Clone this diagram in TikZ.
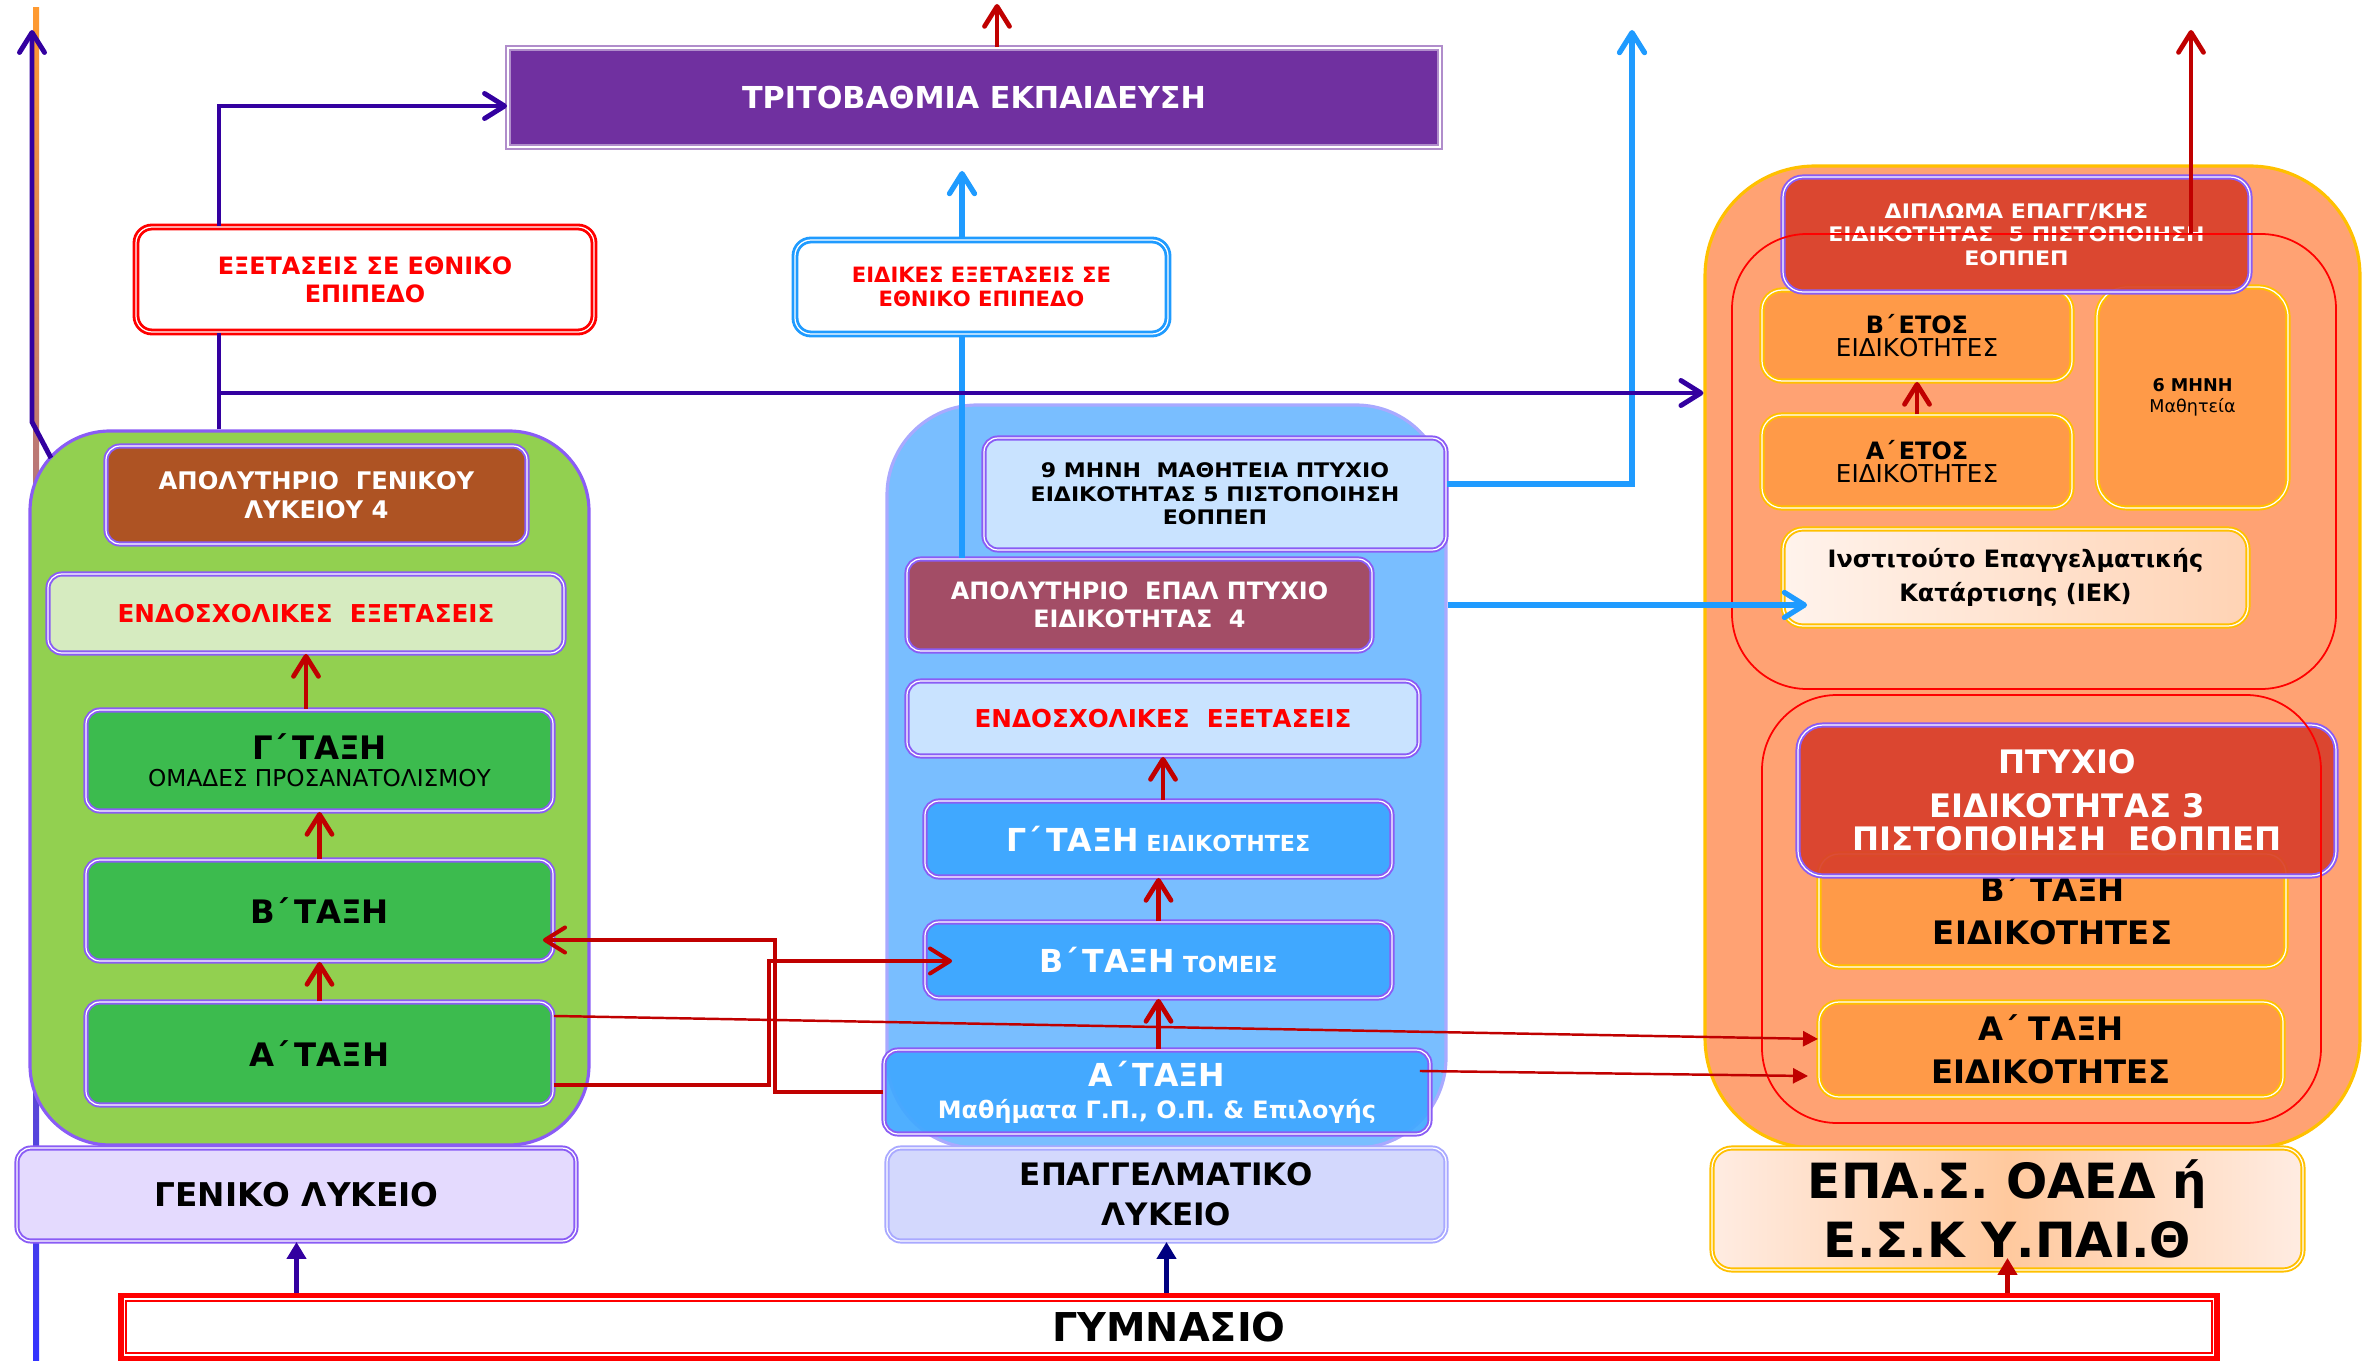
\documentclass[tikz,border=0pt]{standalone}
\usepackage{fontspec}
\setmainfont{DejaVu Sans}
\newfontfamily\widefont{DejaVu Sans}[FakeStretch=1.1]
\usetikzlibrary{arrows.meta}

\definecolor{plum}{HTML}{7030A0}
\definecolor{deepviolet}{HTML}{3300A0}
\definecolor{darkred}{HTML}{C00000}
\definecolor{skyline}{HTML}{1F9BFF}
\definecolor{boxline}{HTML}{8A5CF5}
\definecolor{grass}{HTML}{92D050}
\definecolor{rust}{HTML}{AE5323}
\definecolor{mint}{HTML}{D6EBC0}
\definecolor{leaf}{HTML}{3CBB4E}
\definecolor{lavender}{HTML}{E4DAFE}
\definecolor{skyfill}{HTML}{79BEFF}
\definecolor{skyedge}{HTML}{A9A9FF}
\definecolor{icefill}{HTML}{C9E3FF}
\definecolor{mauve}{HTML}{A34D66}
\definecolor{azure}{HTML}{40A8FF}
\definecolor{periwinkle}{HTML}{D3D8FD}
\definecolor{salmon}{HTML}{FFA273}
\definecolor{gold}{HTML}{FFC000}
\definecolor{brick}{HTML}{D9402B}
\definecolor{tangerine}{HTML}{FF9A48}
\definecolor{peachlight}{HTML}{FFECE2}
\definecolor{peachmid}{HTML}{FFC99E}
\definecolor{iekleft}{HTML}{FFF3EC}
\definecolor{iekright}{HTML}{FFD3B4}
\definecolor{leftorange}{HTML}{FF9A30}
\definecolor{leftpink}{HTML}{E08888}
\definecolor{leftblue}{HTML}{3333FF}
\definecolor{navyline}{HTML}{000080}

\tikzset{
  chev/.tip={Straight Barb[length=2mm,width=2.5mm,round]},
  tri/.tip={Triangle[length=1.5mm,width=1.5mm]},
  gtri/.tip={Triangle[length=1.7mm,width=1.9mm]},
  wh/.style 2 args={minimum width=#1*0.01cm, minimum height=#2*0.01cm},
  fnt/.style 2 args={font=\fontsize{#1}{#2}\selectfont\bfseries},
  widefnt/.style 2 args={font=\widefont\fontsize{#1}{#2}\selectfont\bfseries},
  cont/.style={rectangle, inner sep=0pt, line width=0.9pt},
  box/.style={rectangle, rounded corners=0.14cm, inner sep=0pt, align=center,
    draw=boxline, double=white, double distance=0.35pt, line width=0.55pt},
  gbox/.style={box, draw=gold, fill=tangerine, rounded corners=0.2cm},
  grp/.style={rectangle, draw=red, line width=0.5pt, rounded corners=0.75cm, inner sep=0pt},
  vline/.style={draw=deepviolet, line width=1.4pt},
  rline/.style={draw=darkred, line width=1.35pt, -chev},
  rcross/.style={draw=darkred, line width=1.15pt, -chev},
  rthin/.style={draw=darkred, line width=0.7pt, -tri},
  bline/.style={draw=skyline, line width=1.5pt},
  gline/.style={line width=1.3pt, -gtri}
}

\begin{document}
\begin{tikzpicture}[x=0.01cm, y=-0.01cm]
\useasboundingbox (0,0) rectangle (2369,1361);

\coordinate (ltop) at (32,30);
\coordinate (lbend) at (32,422);
\coordinate (gstart) at (51,458);
\coordinate (vx) at (219,0);
\coordinate (hy) at (0,393);
\coordinate (ty) at (0,106);
\coordinate (bx) at (962,0);
\coordinate (btop) at (1632,30);
\coordinate (rtop) at (2191,30);
\coordinate (ttop) at (997,4);
\coordinate (jA) at (775,940);
\coordinate (jB) at (769,961);
\coordinate (jBy) at (0,1085);

\shade[top color=leftorange, middle color=leftpink, bottom color=leftblue] (33,8) rectangle (39,1361);

\node[cont, fill=grass, draw=boxline, rounded corners=0.8cm, wh={559}{714}] (genbox) at (309.5,788) {};
\node[cont, fill=skyfill, draw=skyedge, rounded corners=0.9cm, wh={559}{743}] (epalbox) at (1166.5,776.5) {};
\node[cont, fill=salmon, draw=gold, rounded corners=1.1cm, wh={655}{982}] (epasbox) at (2032.5,657) {};

\node[box, sharp corners, fill=plum, draw=plum!55, text=white, fnt={8.6pt}{10pt}, wh={932}{99}] (tritov) at (974,97.5) {ΤΡΙΤΟΒΑΘΜΙΑ ΕΚΠΑΙΔΕΥΣΗ};
\node[box, fill=white, draw=red, line width=0.8pt, rounded corners=0.16cm, text=red, fnt={6.8pt}{8pt}, wh={458}{105}] (exet) at (365,279.5) {ΕΞΕΤΑΣΕΙΣ ΣΕ ΕΘΝΙΚΟ\\ΕΠΙΠΕΔΟ};
\node[box, fill=white, draw=skyline, line width=0.8pt, rounded corners=0.16cm, text=red, fnt={6pt}{6.6pt}, wh={373}{94}] (eidik) at (981.5,287) {ΕΙΔΙΚΕΣ ΕΞΕΤΑΣΕΙΣ ΣΕ\\ΕΘΝΙΚΟ ΕΠΙΠΕΔΟ};

\node[box, fill=rust, text=white, fnt={6.9pt}{8.3pt}, wh={421}{98}] (apolgen) at (316.5,495) {ΑΠΟΛΥΤΗΡΙΟ\ \ ΓΕΝΙΚΟΥ\\ΛΥΚΕΙΟΥ\ 4};
\node[box, fill=mint, text=red, fnt={7pt}{8pt}, wh={516}{79}] (endoL) at (306,613.5) {ΕΝΔΟΣΧΟΛΙΚΕΣ\ \ ΕΞΕΤΑΣΕΙΣ};
\node[box, fill=leaf, fnt={6.6pt}{7.7pt}, wh={467}{101}] (gL) at (319.5,760.5) {{\fontsize{9.2pt}{9.2pt}\selectfont Γ΄\,ΤΑΞΗ}\\{\mdseries ΟΜΑΔΕΣ ΠΡΟΣΑΝΑΤΟΛΙΣΜΟΥ}};
\node[box, fill=leaf, fnt={9.2pt}{10pt}, wh={467}{101}] (bL) at (319.5,910.5) {Β΄\,ΤΑΞΗ};
\node[box, fill=leaf, fnt={9.2pt}{10pt}, wh={467}{103}] (aL) at (319.5,1053.5) {Α΄\,ΤΑΞΗ};
\node[box, fill=lavender, fnt={9.3pt}{10pt}, wh={559}{93}] (genlyk) at (296.5,1194.5) {ΓΕΝΙΚΟ ΛΥΚΕΙΟ};

\node[box, fill=icefill, widefnt={5.7pt}{6.7pt}, wh={462}{112}] (mhnh9) at (1215,494) {9 ΜΗΝΗ\ \ ΜΑΘΗΤΕΙΑ ΠΤΥΧΙΟ\\ΕΙΔΙΚΟΤΗΤΑΣ 5 ΠΙΣΤΟΠΟΙΗΣΗ\\ΕΟΠΠΕΠ};
\node[box, fill=mauve, text=white, fnt={6.8pt}{8pt}, wh={465}{92}] (apolepal) at (1139.5,605) {ΑΠΟΛΥΤΗΡΙΟ\ \ ΕΠΑΛ ΠΤΥΧΙΟ\\ΕΙΔΙΚΟΤΗΤΑΣ\ \ 4};
\node[box, fill=icefill, text=red, fnt={7pt}{8pt}, wh={512}{75}] (endoM) at (1163,718.5) {ΕΝΔΟΣΧΟΛΙΚΕΣ\ \ ΕΞΕΤΑΣΕΙΣ};
\node[box, fill=azure, text=white, fnt={6.3pt}{8pt}, wh={467}{76}] (gM) at (1158.5,839) {{\fontsize{9pt}{9pt}\selectfont Γ΄\,ΤΑΞΗ} ΕΙΔΙΚΟΤΗΤΕΣ};
\node[box, fill=azure, text=white, fnt={6.3pt}{8pt}, wh={467}{76}] (bM) at (1158.5,960) {{\fontsize{9pt}{9pt}\selectfont Β΄\,ΤΑΞΗ} ΤΟΜΕΙΣ};
\node[box, fill=azure, fill opacity=0.92, text opacity=1, text=white, fnt={6.8pt}{9.1pt}, wh={546}{84}] (aM) at (1157,1092) {{\fontsize{9pt}{9pt}\selectfont Α΄\,ΤΑΞΗ}\\Μαθήματα Γ.Π., Ο.Π. \& Επιλογής};
\node[box, draw=skyedge, fill=periwinkle, fnt={8.8pt}{11.4pt}, wh={559}{93}] (epaglyk) at (1166.5,1194.5) {ΕΠΑΓΓΕΛΜΑΤΙΚΟ\\ΛΥΚΕΙΟ};

\node[rectangle, draw=red, line width=1.6pt, fill=white, inner sep=0pt, fnt={11.3pt}{12pt}, wh={2096}{63}] (gym) at (1169,1327) {ΓΥΜΝΑΣΙΟ};
\draw[red, line width=0.5pt] ([shift={(8,8)}]gym.north west) rectangle ([shift={(-8,-8)}]gym.south east);

\node[gbox, fnt={6.8pt}{6.6pt}, wh={310}{91}] (betos) at (1917,335.5) {Β΄\,ΕΤΟΣ\\{\mdseries\fontsize{7pt}{6.6pt}\selectfont ΕΙΔΙΚΟΤΗΤΕΣ}};
\node[gbox, fnt={6.8pt}{6.6pt}, wh={310}{93}] (aetos) at (1917,461.5) {Α΄\,ΕΤΟΣ\\{\mdseries\fontsize{7pt}{6.6pt}\selectfont ΕΙΔΙΚΟΤΗΤΕΣ}};
\node[gbox, rounded corners=0.3cm, fnt={5pt}{5.8pt}, wh={191}{221}] (mhnh6) at (2192.5,397.5) {6 ΜΗΝΗ\\{\mdseries Μαθητεία}};
\node[box, draw=gold, left color=iekleft, right color=iekright, rounded corners=0.2cm, fnt={6.8pt}{9.7pt}, wh={465}{97}] (iek) at (2015.5,577.5) {Ινστιτούτο Επαγγελματικής\\Κατάρτισης (ΙΕΚ)};
\node[box, fill=brick, fill opacity=0.92, text opacity=1, text=white, rounded corners=0.2cm, widefnt={5.7pt}{6.7pt}, wh={467}{115}] (diploma) at (2016.5,234.5) {ΔΙΠΛΩΜΑ ΕΠΑΓΓ/ΚΗΣ\\ΕΙΔΙΚΟΤΗΤΑΣ\ \ 5 ΠΙΣΤΟΠΟΙΗΣΗ\\ΕΟΠΠΕΠ};
\node[gbox, fnt={9.2pt}{12.2pt}, wh={467}{113}] (bR) at (2052.5,910.5) {Β΄\ ΤΑΞΗ\\ΕΙΔΙΚΟΤΗΤΕΣ};
\node[gbox, fnt={9.2pt}{12.2pt}, wh={464}{95}] (aR) at (2051,1049.5) {Α΄\ ΤΑΞΗ\\ΕΙΔΙΚΟΤΗΤΕΣ};
\node[box, fill=brick, fill opacity=0.93, text opacity=1, text=white, rounded corners=0.25cm, fnt={9.2pt}{9.4pt}, wh={538}{151}] (ptyxio) at (2067,800.5) {ΠΤΥΧΙΟ\\[3pt]ΕΙΔΙΚΟΤΗΤΑΣ 3\\ΠΙΣΤΟΠΟΙΗΣΗ\ \ ΕΟΠΠΕΠ};
\node[box, draw=gold, left color=peachlight, right color=peachlight, middle color=peachmid, rounded corners=0.2cm, fnt={13.8pt}{16.8pt}, wh={591}{122}] (epas) at (2007.5,1209) {ΕΠΑ.Σ. ΟΑΕΔ ή\\Ε.Σ.Κ Υ.ΠΑΙ.Θ};

\node[grp, wh={604}{455}] (iekgrp) at (2034,461.5) {};
\node[grp, wh={559}{428}] (epasgrp) at (2041.5,909) {};

\draw[bline, -chev, shorten >=0.23cm] (eidik.north -| bx) -- (tritov.south -| bx);
\draw[bline] (eidik.south -| bx) -- (apolepal.north -| bx);
\draw[bline, -chev] ([yshift=0.1cm]mhnh9.east) -| (btop);
\draw[bline, -chev, shorten >=-0.25cm] (epalbox.east |- apolepal.east) -- (iek.west |- apolepal.east);

\draw[vline] (genbox.north -| vx) -- (exet.south -| vx);
\draw[vline, -chev] (vx |- hy) -- (epasbox.west |- hy);
\draw[vline, -chev] (exet.north -| vx) -- (vx |- ty) -- (tritov.west |- ty);
\draw[vline, -chev] (gstart) -- (lbend) -- (ltop);

\draw[rline] (tritov.north -| ttop) -- (ttop);
\draw[rline] (aL.north) -- (bL.south);
\draw[rline] (bL.north) -- (gL.south);
\draw[rline] (gL.north -| endoL.south) -- (endoL.south);
\draw[rline] (aM.north -| bM.south) -- (bM.south);
\draw[rline] (bM.north) -- (gM.south);
\draw[rline] (gM.north -| endoM.south) -- (endoM.south);
\draw[rline] (aetos.north) -- (betos.south);
\draw[rline] (diploma.center -| rtop) -- (rtop);

\draw[rcross, shorten >=-0.11cm] (aM.west) -| (jA) -- (jA -| bL.east);
\draw[rcross, shorten >=-0.28cm] (aL.east |- jBy) -| (jB) -- (jB -| bM.west);
\draw[rthin] ([yshift=0.375cm]aL.east) -- ([yshift=0.105cm]aR.west);
\draw[rthin] ([xshift=-0.11cm,yshift=0.21cm]aM.east) -- ([xshift=-0.1cm,yshift=-0.265cm]aR.west);

\draw[gline, draw=deepviolet] (gym.north -| genlyk.south) -- (genlyk.south);
\draw[gline, draw=navyline] (gym.north -| epaglyk.south) -- (epaglyk.south);
\draw[gline, draw=darkred, shorten >=-0.13cm] (gym.north -| epas.south) -- (epas.south);
\end{tikzpicture}
\end{document}
